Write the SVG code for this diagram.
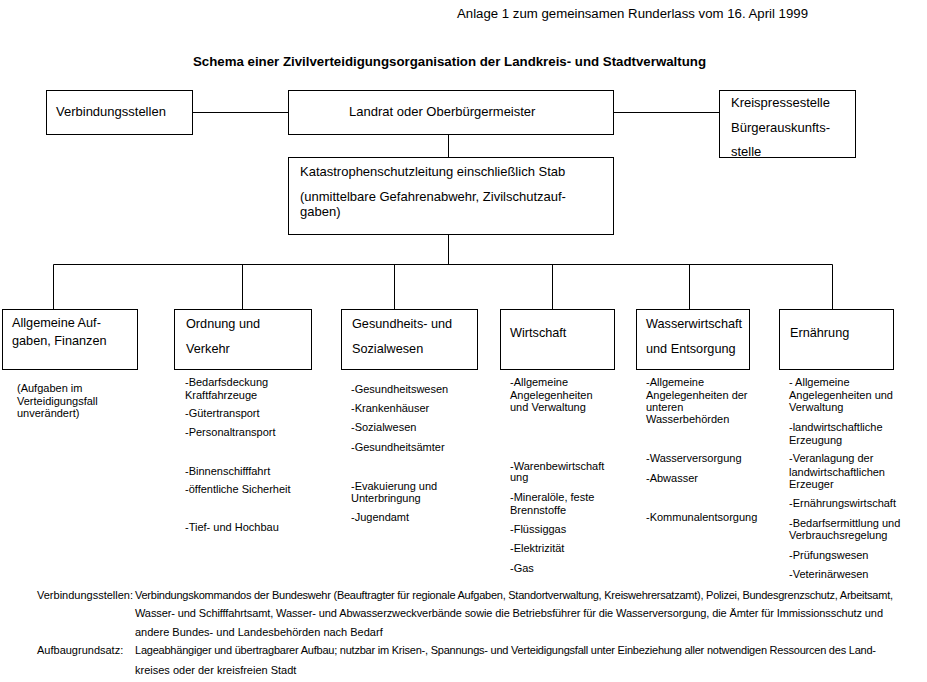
<svg xmlns="http://www.w3.org/2000/svg" width="927" height="682" viewBox="0 0 927 682">
<style>
text{font-family:"Liberation Sans",Arial,sans-serif;fill:#000}
.b{font-size:12.7px}
.k{font-size:13px}
.s{font-size:11px}
.t{font-size:12px;font-weight:bold}
.h{font-size:12.5px}
rect{fill:#fff;stroke:#000;stroke-width:1}
#connectors line{stroke:#000;stroke-width:1}
</style>
<rect x="0" y="0" width="927" height="682" style="stroke:none"/>
<text class="h" x="457" y="18" textLength="351" lengthAdjust="spacingAndGlyphs">Anlage 1 zum gemeinsamen Runderlass vom 16. April 1999</text>
<text class="t" x="193" y="66" textLength="513" lengthAdjust="spacingAndGlyphs">Schema einer Zivilverteidigungsorganisation der Landkreis- und Stadtverwaltung</text>
<g id="connectors">
<line x1="192.5" y1="112.5" x2="288.5" y2="112.5"/>
<line x1="613.5" y1="112.5" x2="719.5" y2="112.5"/>
<line x1="448.5" y1="134.5" x2="448.5" y2="157.5"/>
<line x1="448.5" y1="234.5" x2="448.5" y2="264.5"/>
<line x1="53.5" y1="264.5" x2="832.5" y2="264.5"/>
<line x1="53.5" y1="264.5" x2="53.5" y2="309.5"/>
<line x1="242.5" y1="264.5" x2="242.5" y2="309.5"/>
<line x1="394.5" y1="264.5" x2="394.5" y2="309.5"/>
<line x1="552.5" y1="264.5" x2="552.5" y2="309.5"/>
<line x1="689.5" y1="264.5" x2="689.5" y2="309.5"/>
<line x1="832.5" y1="264.5" x2="832.5" y2="309.5"/>
</g>
<g id="verbindungsstellen">
<rect x="46.5" y="90.5" width="146" height="44"/>
<text class="k" x="56" y="116">Verbindungsstellen</text>
</g>
<g id="landrat">
<rect x="288.5" y="90.5" width="325" height="44"/>
<text class="k" x="349" y="116">Landrat oder Oberbürgermeister</text>
</g>
<g id="kreispressestelle">
<rect x="719.5" y="90.5" width="136" height="67"/>
<text class="k" x="731" y="107">Kreispressestelle</text>
<text class="k" x="731" y="132">Bürgerauskunfts-</text>
<text class="k" x="731" y="156">stelle</text>
</g>
<g id="katastrophenschutz">
<rect x="288.5" y="157.5" width="325" height="77"/>
<text class="k" x="300" y="176">Katastrophenschutzleitung einschließlich Stab</text>
<text class="k" x="300" y="201">(unmittelbare Gefahrenabwehr, Zivilschutzauf-</text>
<text class="k" x="300" y="216">gaben)</text>
</g>
<g id="allgemeine">
<rect x="2.5" y="309.5" width="135" height="60"/>
<text class="b" x="12" y="326.5">Allgemeine Auf-</text>
<text class="b" x="12" y="344.5">gaben, Finanzen</text>
<text class="s" x="17" y="392">(Aufgaben im</text>
<text class="s" x="17" y="405">Verteidigungsfall</text>
<text class="s" x="17" y="417">unverändert)</text>
</g>
<g id="ordnung">
<rect x="174.5" y="309.5" width="137" height="60"/>
<text class="b" x="186" y="327.5">Ordnung und</text>
<text class="b" x="186" y="352.5">Verkehr</text>
<text class="s" x="185" y="386">-Bedarfsdeckung</text>
<text class="s" x="185" y="399">Kraftfahrzeuge</text>
<text class="s" x="185" y="417">-Gütertransport</text>
<text class="s" x="185" y="436">-Personaltransport</text>
<text class="s" x="185" y="475">-Binnenschifffahrt</text>
<text class="s" x="185" y="493">-öffentliche Sicherheit</text>
<text class="s" x="185" y="531">-Tief- und Hochbau</text>
</g>
<g id="gesundheit">
<rect x="341.5" y="309.5" width="136" height="60"/>
<text class="b" x="352" y="327.5">Gesundheits- und</text>
<text class="b" x="352" y="352.5">Sozialwesen</text>
<text class="s" x="351" y="393">-Gesundheitswesen</text>
<text class="s" x="351" y="412">-Krankenhäuser</text>
<text class="s" x="351" y="431">-Sozialwesen</text>
<text class="s" x="351" y="451">-Gesundheitsämter</text>
<text class="s" x="351" y="490">-Evakuierung und</text>
<text class="s" x="351" y="502">Unterbringung</text>
<text class="s" x="351" y="521">-Jugendamt</text>
</g>
<g id="wirtschaft">
<rect x="500.5" y="309.5" width="114" height="60"/>
<text class="b" x="510" y="336.5">Wirtschaft</text>
<text class="s" x="510" y="386">-Allgemeine</text>
<text class="s" x="510" y="399">Angelegenheiten</text>
<text class="s" x="510" y="411">und Verwaltung</text>
<text class="s" x="510" y="470">-Warenbewirtschaft</text>
<text class="s" x="510" y="481">ung</text>
<text class="s" x="510" y="501">-Mineralöle, feste</text>
<text class="s" x="510" y="514">Brennstoffe</text>
<text class="s" x="510" y="533">-Flüssiggas</text>
<text class="s" x="510" y="552">-Elektrizität</text>
<text class="s" x="510" y="572">-Gas</text>
</g>
<g id="wasserwirtschaft">
<rect x="636.5" y="309.5" width="113" height="60"/>
<text class="b" x="646" y="327.5">Wasserwirtschaft</text>
<text class="b" x="646" y="352.5">und Entsorgung</text>
<text class="s" x="646" y="386">-Allgemeine</text>
<text class="s" x="646" y="399">Angelegenheiten der</text>
<text class="s" x="646" y="411">unteren</text>
<text class="s" x="646" y="423">Wasserbehörden</text>
<text class="s" x="646" y="462">-Wasserversorgung</text>
<text class="s" x="646" y="482">-Abwasser</text>
<text class="s" x="646" y="521">-Kommunalentsorgung</text>
</g>
<g id="ernaehrung">
<rect x="779.5" y="309.5" width="114" height="60"/>
<text class="b" x="790" y="336.5">Ernährung</text>
<text class="s" x="789" y="386">- Allgemeine</text>
<text class="s" x="789" y="399">Angelegenheiten und</text>
<text class="s" x="789" y="411">Verwaltung</text>
<text class="s" x="789" y="431">-landwirtschaftliche</text>
<text class="s" x="789" y="444">Erzeugung</text>
<text class="s" x="789" y="462">-Veranlagung der</text>
<text class="s" x="789" y="476">landwirtschaftlichen</text>
<text class="s" x="789" y="488">Erzeuger</text>
<text class="s" x="789" y="507">-Ernährungswirtschaft</text>
<text class="s" x="789" y="527">-Bedarfsermittlung und</text>
<text class="s" x="789" y="539">Verbrauchsregelung</text>
<text class="s" x="789" y="559">-Prüfungswesen</text>
<text class="s" x="789" y="578">-Veterinärwesen</text>
</g>
<g id="footer">
<text class="s" x="37" y="599">Verbindungsstellen:</text>
<text class="s" x="135" y="599" textLength="758" lengthAdjust="spacing">Verbindungskommandos der Bundeswehr (Beauftragter für regionale Aufgaben, Standortverwaltung, Kreiswehrersatzamt), Polizei, Bundesgrenzschutz, Arbeitsamt,</text>
<text class="s" x="135" y="617" textLength="748" lengthAdjust="spacing">Wasser- und Schifffahrtsamt, Wasser- und Abwasserzweckverbände sowie die Betriebsführer für die Wasserversorgung, die Ämter für Immissionsschutz und</text>
<text class="s" x="135" y="636">andere Bundes- und Landesbehörden nach Bedarf</text>
<text class="s" x="37" y="654">Aufbaugrundsatz:</text>
<text class="s" x="135" y="654" textLength="741" lengthAdjust="spacing">Lageabhängiger und übertragbarer Aufbau; nutzbar im Krisen-, Spannungs- und Verteidigungsfall unter Einbeziehung aller notwendigen Ressourcen des Land-</text>
<text class="s" x="135" y="674">kreises oder der kreisfreien Stadt</text>
</g>
</svg>
